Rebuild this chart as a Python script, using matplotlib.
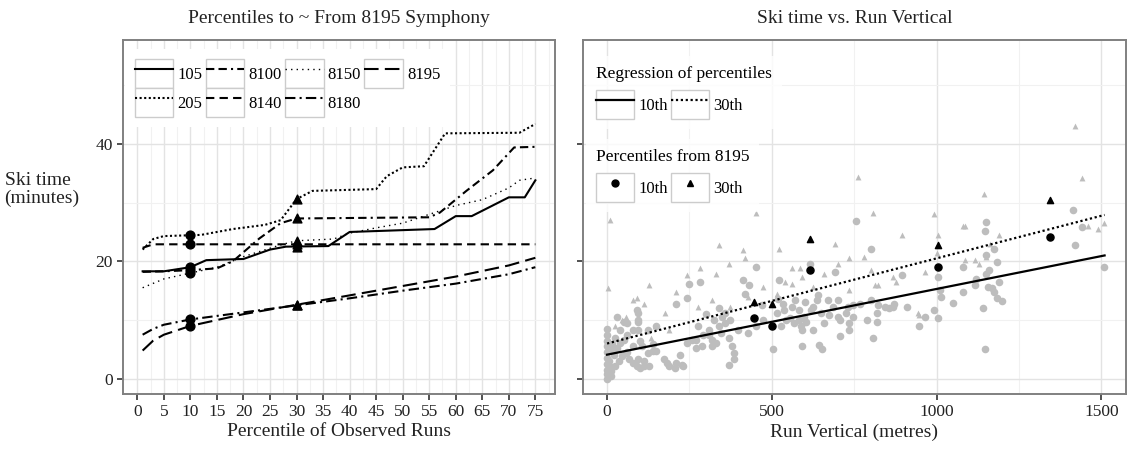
import matplotlib
matplotlib.use("Agg")
import matplotlib.pyplot as plt
import numpy as np
from matplotlib.legend_handler import HandlerLine2D
from matplotlib.lines import Line2D
from matplotlib.patches import Rectangle

plt.rcParams["font.family"] = ["Liberation Serif", "DejaVu Serif"]

# ---- left panel: percentile curves per run ----
run_names = ["105", "205", "8100", "8140", "8150", "8180", "8195"]

pct_105 = [1, 5, 10, 13, 20, 25, 28, 36, 40, 56, 60, 63, 70, 73, 75]
time_105 = [18.3, 18.3, 19.0, 20.2, 20.4, 22.0, 22.5, 22.6, 25.0, 25.5, 27.7, 27.7, 30.9, 30.9, 33.8]

pct_205 = [1, 3, 5, 12, 18, 24, 27, 30, 33, 45, 47, 50, 54, 56, 58, 72, 75]
time_205 = [22.0, 23.8, 24.3, 24.5, 25.5, 26.2, 27.0, 30.6, 32.0, 32.3, 34.5, 36.0, 36.2, 39.0, 41.8, 41.9, 43.4]

pct_8100 = [1, 5, 10, 15, 18, 23, 27, 30, 55, 57, 62, 67, 71, 75]
time_8100 = [18.2, 18.3, 18.5, 18.8, 20.0, 23.9, 26.5, 27.3, 27.5, 28.3, 32.0, 35.5, 39.4, 39.5]

pct_8140 = [1, 3, 75]
time_8140 = [22.3, 22.9, 22.9]

pct_8150 = [1, 5, 10, 15, 20, 27, 30, 37, 40, 45, 50, 55, 60, 65, 70, 72, 75]
time_8150 = [15.5, 17.0, 18.0, 19.0, 20.8, 22.8, 23.5, 23.8, 24.8, 25.7, 26.5, 28.0, 29.5, 30.5, 32.5, 33.8, 34.2]

pct_8180 = [1, 3, 5, 10, 20, 30, 40, 50, 60, 70, 75]
time_8180 = [7.5, 8.5, 9.2, 10.1, 11.3, 12.5, 13.7, 15.0, 16.2, 17.8, 19.0]

pct_8195 = [1, 3, 5, 10, 20, 30, 40, 50, 60, 70, 75]
time_8195 = [4.8, 6.5, 7.5, 9.0, 11.0, 12.6, 14.2, 15.8, 17.4, 19.3, 20.6]

marked_pcts = [10, 30]

# ---- right panel: ski time vs vertical ----
grey_circ_x = [0, 0, 0, 0, 0, 0, 0, 0, 0, 0, 5, 8, 12, 15, 20, 25, 40, 51, 60, 79, 95, 95, 95, 112,
               123, 128, 140, 183, 205, 210, 226, 243, 248, 270, 276, 281, 308, 319, 341, 369, 385,
               396, 412, 418, 451, 505, 522, 533, 544, 560, 582, 593, 593, 615, 626, 642, 653, 670,
               692, 702, 708, 730, 735, 746, 757, 801, 807, 818, 823, 856, 867, 894, 948, 965, 993,
               1003, 1003, 1014, 1080, 1080, 1118, 1140, 1146, 1146, 1151, 1151, 1157, 1168, 1173,
               1184, 1413, 1419, 1441, 1507,
               13, 13, 24, 35, 46, 19, 30, 40, 57, 68, 79, 90, 101, 112, 62, 79, 95, 106, 123, 139,
               51, 90, 95, 150, 172, 188, 210, 232, 221, 243, 259, 270, 287, 292, 308, 319, 330, 347,
               358, 369, 380, 385, 374, 358, 341, 325, 429, 451, 473, 516, 527, 538, 555, 566, 571,
               582, 588, 599, 604, 620, 626, 637, 648, 659, 675, 686, 702, 708, 724, 735, 746, 768,
               790, 801, 818, 845, 872, 910,
               1160, 1190, 1200, 1175, 1150, 1185, 1010, 1050, 1120, 600, 640, 520, 470, 430, 350,
               300, 150, 100, 60, 30]
grey_circ_y = [0.0, 0.8, 1.5, 2.5, 3.5, 4.5, 5.5, 6.5, 7.5, 8.5, 3.0, 5.0, 2.0, 6.0, 4.0, 7.0, 8.3, 6.6,
               4.5, 5.5, 3.3, 11.2, 10.0, 2.1, 8.3, 2.1, 6.0, 2.7, 1.9, 12.8, 2.4, 13.7, 16.2, 6.6,
               8.9, 16.5, 7.5, 5.5, 8.9, 2.4, 4.4, 8.3, 16.8, 14.5, 19.0, 5.0, 16.8, 12.8, 10.0, 12.3,
               10.0, 8.3, 5.5, 19.6, 12.3, 5.8, 5.0, 13.4, 18.2, 10.6, 7.2, 12.3, 9.5, 12.6, 26.8,
               22.1, 6.9, 9.7, 12.6, 12.0, 12.3, 17.7, 8.9, 10.6, 11.7, 10.3, 17.4, 14.0, 14.8, 19.0,
               15.9, 12.0, 5.0, 25.2, 17.9, 26.7, 15.7, 15.4, 22.1, 13.7, 28.8, 22.7, 25.8, 19.0,
               0.5, 1.3, 2.1, 3.0, 3.8, 4.7, 5.2, 6.1, 4.4, 3.3, 2.7, 2.1, 1.9, 3.0, 7.5, 8.3, 8.3,
               5.5, 4.4, 4.7, 9.7, 11.7, 9.7, 4.7, 3.3, 2.1, 2.7, 2.1, 4.1, 6.1, 6.6, 5.2, 5.5, 7.5,
               8.3, 6.6, 6.1, 7.8, 9.5, 6.9, 5.5, 3.3, 10.0, 11.2, 12.0, 10.0, 7.8, 8.9, 10.0, 11.2,
               8.9, 11.7, 10.3, 9.5, 13.4, 11.7, 8.9, 10.6, 9.7, 11.7, 8.3, 13.4, 11.2, 9.5, 10.9,
               12.3, 13.4, 10.0, 11.2, 8.3, 10.6, 12.8, 10.0, 13.4, 11.2, 12.3, 12.8, 12.3,
               18.5, 16.5, 13.2, 14.8, 21.0, 19.8, 15.2, 12.9, 17.0, 13.0, 14.2, 13.5, 12.5, 16.0,
               10.5, 11.0, 9.0, 6.5, 9.5, 10.5]

grey_tri_x = [2, 8, 57, 90, 128, 134, 210, 243, 281, 330, 341, 369, 412, 418, 451, 522, 560, 587,
              692, 735, 763, 801, 806, 823, 877, 894, 948, 992, 1003, 1080, 1085, 1118, 1145, 1151,
              1162, 1419, 1441, 1491, 1507,
              24, 46, 79, 112, 145, 177, 188, 276, 319, 374, 429, 473, 516, 560, 593, 626, 659, 735,
              812, 867, 943, 965, 1085, 1129,
              1000, 1190, 1460, 540, 700, 780]
grey_tri_y = [15.4, 27.1, 10.6, 13.7, 15.9, 6.9, 14.8, 17.6, 18.8, 17.9, 22.7, 19.6, 21.9, 20.5, 28.2,
              22.1, 18.8, 18.8, 22.9, 20.5, 34.3, 18.5, 28.2, 15.9, 16.5, 24.4, 10.9, 28.0, 24.4, 26.1,
              26.0, 20.2, 31.4, 20.7, 23.0, 43.0, 34.2, 25.5, 26.6,
              8.9, 10.0, 13.4, 12.8, 8.9, 11.2, 8.3, 12.3, 13.4, 12.3, 14.0, 15.7, 14.5, 16.2, 17.4,
              15.7, 17.9, 15.1, 15.9, 17.4, 11.2, 18.2, 20.2, 19.6,
              21.5, 24.5, 26.0, 16.5, 19.5, 20.8]

sel_vert = [445, 500, 615, 1003, 1343]
sel_p10 = [10.3, 9.0, 18.5, 19.0, 24.2]
sel_p30 = [13.0, 12.7, 23.8, 22.7, 30.5]

reg_vert = [0, 1510]
reg_p10 = [4.1, 21.0]
reg_p30 = [6.0, 27.9]

LINESTYLES = {
    "105": "-",
    "205": (0, (1, 1.2)),
    "8100": (0, (4, 2, 4, 2, 1, 2)),
    "8140": (0, (4, 2.5)),
    "8150": (0, (1, 3)),
    "8180": (0, (5, 2, 1, 2)),
    "8195": (0, (7, 3)),
}
GRID_MAJ = "#e3e3e3"
GRID_MIN = "#f1f1f1"
FRAME = "#808080"
TXT = "#222222"


class BoxedHandler(HandlerLine2D):
    """legend key with a grey box round it, ggplot style"""

    def create_artists(self, legend, orig_handle, xdescent, ydescent, width, height, fontsize, trans):
        arts = super().create_artists(legend, orig_handle, xdescent, ydescent, width, height, fontsize, trans)
        box = Rectangle((-xdescent, -ydescent), width, height, fc="white", ec="#cccccc", lw=1.0,
                        transform=trans)
        return [box] + arts


def style_axes(ax, xmajor, xminor, ymajor, yminor):
    ax.set_xticks(xmajor)
    ax.set_xticks(xminor, minor=True)
    ax.set_yticks(ymajor)
    ax.set_yticks(yminor, minor=True)
    ax.grid(True, which="major", color=GRID_MAJ, lw=1.0)
    ax.grid(True, which="minor", color=GRID_MIN, lw=0.8)
    ax.set_axisbelow(True)
    ax.tick_params(which="major", length=4, width=1.2, color="#333333", labelsize=12.5, labelcolor=TXT)
    ax.tick_params(which="minor", length=0)
    for s in ax.spines.values():
        s.set_color(FRAME)
        s.set_linewidth(1.4)


fig = plt.figure(figsize=(11.27, 4.51), dpi=100)
ax1 = fig.add_axes([123 / 1127, 57 / 451, 432 / 1127, 354 / 451])
ax2 = fig.add_axes([583 / 1127, 57 / 451, 543 / 1127, 354 / 451])

series = {
    "105": (pct_105, time_105),
    "205": (pct_205, time_205),
    "8100": (pct_8100, time_8100),
    "8140": (pct_8140, time_8140),
    "8150": (pct_8150, time_8150),
    "8180": (pct_8180, time_8180),
    "8195": (pct_8195, time_8195),
}

handles = []
for name in run_names:
    px, py = series[name]
    lw = 1.0 if name == "8150" else 1.5
    (ln,) = ax1.plot(px, py, color="black", lw=lw, ls=LINESTYLES[name], label=name)
    handles.append(ln)
    mk = np.interp(marked_pcts, px, py)
    ax1.scatter([marked_pcts[0]], [mk[0]], marker="o", s=40, color="black", zorder=3)
    ax1.scatter([marked_pcts[1]], [mk[1]], marker="^", s=40, color="black", zorder=3)

ax1.set_xlim(-2.7, 78.7)
ax1.set_ylim(-2.6, 57.7)
style_axes(ax1, np.arange(0, 76, 5), np.arange(2.5, 78, 5), [0, 20, 40], [10, 30, 50])
ax1.set_xlabel("Percentile of Observed Runs", fontsize=14, color=TXT, labelpad=2)
ax1.set_title("Percentiles to ~ From 8195 Symphony", fontsize=14, color=TXT, pad=12)

leg1 = ax1.legend(handles=handles, ncol=4, loc="upper left", bbox_to_anchor=(0.005, 0.975),
                  handler_map={Line2D: BoxedHandler()}, fontsize=12, frameon=True,
                  handlelength=2.3, handleheight=2.3, handletextpad=0.25, columnspacing=0.2,
                  labelspacing=0.0, borderpad=0.6, borderaxespad=0)
leg1.get_frame().set_facecolor("white")
leg1.get_frame().set_edgecolor("none")
leg1.get_frame().set_alpha(1)

fig.text(0.004, 0.58, "Ski time\n(minutes)", fontsize=14, color=TXT, ha="left", va="center",
         linespacing=1.0)

# right panel
ax2.scatter(grey_circ_x, grey_circ_y, marker="o", s=30, color="#bdbdbd", lw=0, zorder=2)
ax2.scatter(grey_tri_x, grey_tri_y, marker="^", s=18, color="#bdbdbd", lw=0, zorder=2)
ax2.plot(reg_vert, reg_p10, color="black", lw=1.6, ls="-", zorder=3)
ax2.plot(reg_vert, reg_p30, color="black", lw=1.6, ls=(0, (1, 1.2)), zorder=3)
ax2.scatter(sel_vert, sel_p10, marker="o", s=26, color="black", zorder=4)
ax2.scatter(sel_vert, sel_p30, marker="^", s=20, color="black", zorder=4)

ax2.set_xlim(-73, 1575)
ax2.set_ylim(-2.6, 57.7)
style_axes(ax2, [0, 500, 1000, 1500], [250, 750, 1250], [0, 20, 40], [10, 30, 50])
ax2.tick_params(axis="y", labelleft=False)
ax2.set_xlabel("Run Vertical (metres)", fontsize=14, color=TXT, labelpad=2)
ax2.set_title("Ski time vs. Run Vertical", fontsize=14, color=TXT, pad=12)

reg_handles = [Line2D([], [], color="black", lw=1.6, ls="-"),
               Line2D([], [], color="black", lw=1.6, ls=(0, (1, 1.2)))]
pt_handles = [Line2D([], [], color="black", marker="o", ls="none", ms=5),
              Line2D([], [], color="black", marker="^", ls="none", ms=5)]

leg_a = ax2.legend(reg_handles, ["10th", "30th"], title="Regression of percentiles", ncol=2,
                   loc="upper left", bbox_to_anchor=(0.005, 0.955), handler_map={Line2D: BoxedHandler()},
                   fontsize=12, title_fontsize=12.5, frameon=True, handlelength=2.3, handleheight=2.3,
                   handletextpad=0.25, columnspacing=0.2, borderpad=0.6, borderaxespad=0,
                   alignment="left")
leg_a.get_frame().set_facecolor("white")
leg_a.get_frame().set_edgecolor("none")
ax2.add_artist(leg_a)

leg_b = ax2.legend(pt_handles, ["10th", "30th"], title="Percentiles from 8195", ncol=2,
                   loc="upper left", bbox_to_anchor=(0.005, 0.72), handler_map={Line2D: BoxedHandler()},
                   fontsize=12, title_fontsize=12.5, frameon=True, handlelength=2.3, handleheight=2.3,
                   handletextpad=0.25, columnspacing=0.2, borderpad=0.6, borderaxespad=0,
                   alignment="left")
leg_b.get_frame().set_facecolor("white")
leg_b.get_frame().set_edgecolor("none")

fig.savefig("out.png", dpi=100)
